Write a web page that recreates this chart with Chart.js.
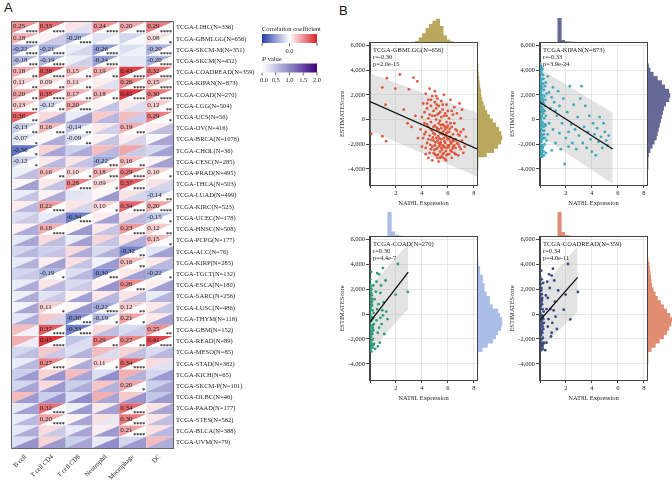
<!DOCTYPE html>
<html>
<head>
<meta charset="utf-8">
<script src="https://cdn.jsdelivr.net/npm/chart.js@4.4.1/dist/chart.umd.min.js"></script>
<style>
  body { margin: 0; background: #fff; }
  #wrap { position: relative; width: 672px; height: 480px; overflow: hidden; background: #fff; }
  #wrap canvas { position: absolute; }
  .panel { position: absolute; font: 13px "Liberation Sans", Arial, sans-serif; color: #111; }
</style>
</head>
<body>
<div id="wrap">
  <div class="panel" style="left:4px;top:0px">A</div>
  <div class="panel" style="left:339px;top:3px">B</div>
</div>
<script>
// ---- panel A: immune correlation heatmap ----
const cellTypes = ['B cell', 'T cell CD4', 'T cell CD8', 'Neutrophil', 'Macrophage', 'DC'];
const cancers = [
  'TCGA-LIHC(N=336)', 'TCGA-GBMLGG(N=656)', 'TCGA-SKCM-M(N=351)', 'TCGA-SKCM(N=452)',
  'TCGA-COADREAD(N=359)', 'TCGA-KIPAN(N=873)', 'TCGA-COAD(N=270)', 'TCGA-LGG(N=504)',
  'TCGA-UCS(N=56)', 'TCGA-OV(N=416)', 'TCGA-BRCA(N=1076)', 'TCGA-CHOL(N=36)',
  'TCGA-CESC(N=285)', 'TCGA-PRAD(N=495)', 'TCGA-THCA(N=503)', 'TCGA-LUAD(N=499)',
  'TCGA-KIRC(N=523)', 'TCGA-UCEC(N=178)', 'TCGA-HNSC(N=508)', 'TCGA-PCPG(N=177)',
  'TCGA-ACC(N=76)', 'TCGA-KIRP(N=285)', 'TCGA-TGCT(N=132)', 'TCGA-ESCA(N=180)',
  'TCGA-SARC(N=256)', 'TCGA-LUSC(N=486)', 'TCGA-THYM(N=118)', 'TCGA-GBM(N=152)',
  'TCGA-READ(N=89)', 'TCGA-MESO(N=85)', 'TCGA-STAD(N=382)', 'TCGA-KICH(N=65)',
  'TCGA-SKCM-P(N=101)', 'TCGA-DLBC(N=46)', 'TCGA-PAAD(N=177)', 'TCGA-STES(N=562)',
  'TCGA-BLCA(N=388)', 'TCGA-UVM(N=79)'
];
const corrValues = [
  [0.25, 0.33, 0.06, 0.24, 0.20, 0.29], [0.18, 0.03, -0.20, -0.07, -0.10, 0.08],
  [-0.22, -0.21, -0.05, -0.26, -0.08, -0.20], [-0.18, -0.19, -0.04, -0.24, -0.06, -0.20],
  [0.18, 0.38, 0.15, 0.19, 0.43, 0.32], [0.11, 0.09, 0.11, 0.04, 0.26, 0.15],
  [0.20, 0.35, 0.17, 0.18, 0.45, 0.30], [0.13, -0.12, 0.20, 0.03, 0.05, 0.12],
  [0.36, 0.08, -0.05, 0.12, 0.15, 0.29], [-0.13, 0.16, -0.14, 0.05, 0.19, 0.04],
  [-0.07, 0.02, -0.09, 0.03, 0.04, -0.02], [-0.36, 0.10, -0.12, 0.15, 0.20, -0.10],
  [-0.12, 0.05, 0.06, -0.22, 0.16, 0.03], [-0.04, 0.16, 0.10, 0.18, 0.29, 0.10],
  [0.02, 0.05, 0.28, 0.09, 0.37, 0.06], [-0.05, 0.03, -0.07, 0.02, 0.06, -0.14],
  [0.04, 0.22, 0.06, 0.10, 0.34, 0.20], [-0.08, -0.05, -0.34, 0.04, 0.06, -0.15],
  [0.03, 0.18, 0.02, 0.05, 0.23, 0.12], [-0.06, 0.08, -0.05, 0.09, 0.06, 0.15],
  [-0.10, -0.12, 0.08, -0.09, -0.32, -0.07], [-0.05, 0.04, 0.07, -0.03, 0.16, 0.05],
  [-0.10, -0.19, -0.08, -0.30, 0.05, -0.22], [-0.05, 0.06, -0.09, 0.03, 0.26, 0.04],
  [-0.04, -0.07, 0.03, 0.05, 0.06, -0.05], [-0.03, 0.11, 0.02, -0.22, 0.12, 0.05],
  [-0.06, 0.12, -0.30, -0.19, 0.21, 0.05], [0.15, 0.37, -0.33, 0.08, -0.09, 0.25],
  [0.18, 0.45, -0.15, 0.29, 0.27, 0.41], [-0.10, 0.12, -0.08, 0.15, 0.10, -0.09],
  [-0.05, 0.27, 0.04, 0.11, 0.34, 0.08], [-0.12, 0.10, 0.15, -0.08, 0.18, -0.10],
  [-0.10, 0.08, -0.12, 0.13, 0.20, -0.12], [0.15, -0.12, -0.08, 0.18, 0.12, -0.14],
  [-0.06, 0.32, -0.04, 0.05, 0.34, 0.06], [-0.05, 0.20, 0.03, 0.07, 0.30, 0.06],
  [-0.06, 0.08, -0.05, 0.04, 0.21, 0.07], [-0.08, 0.10, -0.12, -0.05, -0.10, 0.15]
];
const pValues = [
  [1e-5, 1e-5, 0.25, 1e-5, 2e-4, 1e-5], [1e-5, 0.45, 1e-5, 0.08, 0.06, 0.04],
  [1e-5, 1e-5, 0.35, 1e-5, 0.13, 1e-5], [2e-4, 1e-5, 0.40, 1e-5, 0.20, 1e-5],
  [0.005, 1e-5, 0.005, 0.005, 1e-5, 1e-5], [0.005, 0.008, 0.005, 0.25, 1e-5, 1e-5],
  [0.003, 1e-5, 0.006, 0.004, 1e-5, 1e-5], [0.004, 0.007, 1e-5, 0.5, 0.3, 0.006],
  [0.006, 0.75, 0.85, 0.6, 0.45, 0.03], [0.008, 5e-4, 0.004, 0.4, 1e-4, 0.55],
  [0.03, 0.7, 0.004, 0.5, 0.35, 0.75], [0.03, 0.75, 0.7, 0.6, 0.45, 0.8],
  [0.04, 0.6, 0.5, 2e-4, 0.006, 0.8], [0.55, 0.002, 0.03, 1e-4, 1e-5, 0.03],
  [0.8, 0.5, 1e-5, 0.04, 1e-5, 0.35], [0.5, 0.7, 0.2, 0.85, 0.35, 0.002],
  [0.6, 1e-5, 0.35, 0.03, 1e-5, 1e-5], [0.45, 0.7, 1e-5, 0.8, 0.6, 0.04],
  [0.7, 1e-5, 0.85, 0.5, 1e-5, 0.008], [0.75, 0.55, 0.8, 0.5, 0.7, 0.04],
  [0.6, 0.5, 0.7, 0.65, 0.005, 0.8], [0.65, 0.8, 0.5, 0.85, 0.007, 0.6],
  [0.45, 0.03, 0.6, 5e-4, 0.8, 0.02], [0.7, 0.6, 0.45, 0.9, 5e-4, 0.8],
  [0.7, 0.45, 0.8, 0.6, 0.55, 0.65], [0.75, 0.02, 0.9, 1e-5, 0.008, 0.5],
  [0.7, 0.35, 5e-4, 0.04, 0.02, 0.8], [0.12, 1e-5, 1e-5, 0.55, 0.45, 0.002],
  [0.15, 1e-5, 0.3, 0.006, 0.006, 1e-5], [0.55, 0.45, 0.65, 0.3, 0.55, 0.6],
  [0.6, 1e-5, 0.7, 0.03, 1e-5, 0.25], [0.85, 0.9, 0.75, 0.95, 0.65, 0.85],
  [0.75, 0.85, 0.7, 0.65, 0.04, 0.75], [0.85, 0.9, 0.95, 0.75, 0.9, 0.85],
  [0.8, 1e-5, 0.85, 0.8, 1e-5, 0.75], [0.6, 1e-5, 0.75, 0.2, 1e-5, 0.55],
  [0.7, 0.45, 0.75, 0.85, 1e-5, 0.6], [0.9, 0.85, 0.75, 0.95, 0.85, 0.7]
];

// ---- panel B: scatter data (NAT8L expression vs ESTIMATEScore) ----
const xTicks = [0, 2, 4, 6, 8];
const yTicks = [-4000, -2000, 0, 2000, 4000, 6000];

const gbmlggPoints = [
  [0.1,-1150],[0.95,-1350],[1.25,-1750],[0.95,2600],[1.3,3350],[1.95,2500],[2.3,3650],[3.0,2450],[3.35,3400],[3.65,3100],[1.2,1200],[2.6,800],[3.2,-600],[3.5,300],[3.7,-1500],[2.9,-300],
  [3.9,-800],[4.0,200],[4.0,-2200],[4.1,1300],[4.1,-1500],[4.2,600],[4.2,-300],[4.3,2100],[4.3,-2800],[4.3,-1000],[4.4,900],[4.4,-1900],[4.5,1600],[4.5,100],[4.5,-3100],[4.5,-600],
  [4.6,2500],[4.6,-1300],[4.6,400],[4.7,-2400],[4.7,1100],[4.7,-200],[4.8,1900],[4.8,-900],[4.8,-3300],[4.8,300],[4.9,-1700],[4.9,700],[4.9,-2700],[5.0,1400],[5.0,-500],[5.0,-1200],[5.0,-2100],[5.0,2300],
  [5.1,-1500],[5.1,0],[5.1,900],[5.1,-2900],[5.2,-800],[5.2,1700],[5.2,-2300],[5.2,400],[5.3,-1900],[5.3,-300],[5.3,-3400],[5.3,1100],[5.4,-1100],[5.4,-2600],[5.4,600],[5.4,-100],[5.5,-1600],[5.5,1500],[5.5,-3000],[5.5,-700],[5.5,200],
  [5.6,-2100],[5.6,-1200],[5.6,800],[5.6,-400],[5.7,-2700],[5.7,-1500],[5.7,300],[5.7,2000],[5.8,-1900],[5.8,-800],[5.8,-3200],[5.8,500],[5.9,-2300],[5.9,-1100],[5.9,-200],[5.9,1200],[6.0,-1600],[6.0,-2800],[6.0,-500],[6.0,700],
  [6.1,-2100],[6.1,-1000],[6.1,100],[6.2,-2500],[6.2,-1400],[6.2,1600],[6.3,-1800],[6.3,-600],[6.3,-3100],[6.4,-2200],[6.4,400],[6.4,-1200],[6.5,-2700],[6.5,-300],[6.5,1000],
  [6.6,-1600],[6.6,-2300],[6.7,-900],[6.7,500],[6.8,-2000],[6.8,-2900],[6.9,-1300],[6.9,1300],[7.0,-2400],[7.0,100],[7.1,-1700],[7.1,800],[7.2,-800],[7.3,-2200],[7.4,-1400],
  [4.85,-1450],[5.05,-1850],[5.15,-650],[5.25,-1350],[5.35,-2150],[5.45,-450],[5.55,-2450],[5.65,-950],[5.75,-1750],[5.85,-2550],[5.95,-1450],[6.05,-2250],[6.15,-750],[6.25,-1950],[6.35,-2350],
  [5.25,-2850],[5.65,-3100],[4.95,-2450],[4.75,-1650],[5.45,-1850],[5.95,-650],[6.45,-1750],[4.65,-2050],[5.35,-1550],[5.75,-2250],
  [4.2,-1200],[4.4,-400],[4.6,-2700],[4.7,1600],[4.9,-600],[5.0,300],[5.1,-2400],[5.2,-1700],[5.3,500],[5.4,-2000],[5.5,-1100],[5.6,-2800],[5.7,-500],[5.8,-1300],[5.9,-2900],[6.0,-1000],
  [6.1,-1600],[6.2,-300],[6.3,-2600],[6.4,-1600],[6.5,-2100],[6.6,-800],[6.7,-1900],[6.8,-1200],[7.0,-1000],[7.2,-2700],[4.4,1300],[4.8,-2200],[5.1,1900],[5.3,-800],[5.6,1200],[5.9,300],
  [6.1,-2800],[6.3,700],[4.5,-1600],[4.9,-1100],[5.2,-3100],[5.5,-2300],[5.8,-600],[6.0,-2100],[6.6,-2800],[6.9,-2200],[5.0,-2800],[5.4,-3100],[5.7,-2200],[6.2,-1800],[4.3,-2300],[4.7,-800],
  [5.15,1200],[5.85,-3300]
];
const kipanPoints = [
  [0.02,4500],[0.05,3900],[0.1,4200],[0.03,3400],[0.15,3700],[0.08,3000],[0.2,3300],[0.04,2700],[0.12,2500],[0.25,2900],[0.06,2200],[0.18,2000],[0.3,2400],[0.02,1800],[0.1,1600],[0.22,1500],
  [0.35,1900],[0.05,1200],[0.15,1000],[0.28,1300],[0.08,800],[0.2,600],[0.4,1100],[0.03,400],[0.12,200],[0.25,500],[0.06,0],[0.18,-200],[0.32,100],[0.1,-500],[0.02,-700],[0.22,-900],
  [0.4,-400],[0.07,-1100],[0.15,-1300],[0.3,-1200],[0.04,-1600],[0.12,-1800],[0.25,-1500],[0.08,-2100],[0.2,-2300],[0.35,-2000],[0.03,-2500],[0.14,-2700],[0.28,-2600],[0.06,-2900],[0.18,-3000],
  [0.1,-2800],[0.45,-2700],[0.5,-1700],[0.45,300],[0.5,2100],[0.45,3000],[0.13,4000],[0.24,3600],[0.02,2900],[0.09,2300],[0.16,1400],[0.04,-300],[0.27,-600],[0.11,-2300],
  [0.03,3800],[0.07,3200],[0.11,2800],[0.16,2600],[0.05,2000],[0.13,1900],[0.21,1700],[0.09,1300],[0.17,700],[0.01,900],[0.26,800],[0.14,300],[0.04,-100],[0.21,-400],[0.12,-800],[0.33,-900],
  [0.06,-1400],[0.19,-1600],[0.02,-1900],[0.15,-2100],[0.24,-2200],[0.08,-2400],[0.17,-2500],[0.31,-2900],[0.05,-3000],[0.38,-1500],[0.42,-500],[0.36,700],[0.42,1600],[0.38,2700],[0.09,4300],
  [0.19,4100],[0.27,3300],[0.01,3100],[0.11,-3000],[0.23,-2900],
  [0.6,3500],[0.7,2200],[0.8,900],[0.6,-1200],[0.9,-2500],[0.7,-300],[1.0,2600],[1.1,1400],[1.0,-800],[1.2,-1900],[1.3,300],[1.4,2300],[1.5,-1100],[1.5,1100],[1.6,-2400],[1.7,-300],
  [1.8,1700],[1.9,-3600],[2.0,-1500],[2.1,600],[2.2,-2200],[2.3,2700],[2.4,-400],[2.5,-1900],[2.6,1200],[2.7,-800],[2.8,-2400],[2.9,200],[3.0,-1300],[3.1,1700],[3.2,2700],[3.3,-1900],
  [3.4,-600],[3.5,1100],[3.6,-2300],[3.7,-1000],[3.8,300],[3.9,-1600],[4.0,-2600],[4.1,-300],[4.2,-1200],[4.3,-2900],[4.4,-700],[4.5,-1800],[4.6,200],[4.7,-1400],[4.8,-2300],[4.9,-300],
  [5.0,-1000],[5.1,-1700],[5.2,-2100],[5.3,-1300],[2.2,-1000],[1.2,700],[0.9,1800]
];
const coadPoints = [
  [0.02,2800],[0.05,2200],[0.1,1700],[0.03,1300],[0.15,1000],[0.06,600],[0.2,300],[0.02,0],[0.1,-300],[0.05,-600],[0.18,-900],[0.03,-1200],[0.12,-1500],[0.25,-1300],[0.07,-1800],[0.15,-2100],
  [0.04,-2400],[0.2,-2700],[0.1,-3000],[0.08,-2600],[0.22,-2000],[0.12,-500],[0.28,100],[0.03,500],[0.14,1500],[0.25,2300],[0.06,-1000],[0.18,-1600],[0.3,-2400],[0.1,3400],[0.02,-2200],
  [0.16,700],[0.26,-300],[0.04,1900],[0.09,-1400],[0.3,-800],
  [0.01,2400],[0.04,-2800],[0.08,-200],[0.13,-2400],[0.17,1200],[0.21,-1100],[0.06,300],[0.11,2000],[0.24,-2500],[0.19,-400],[0.02,-1600],[0.09,900],
  [0.45,1800],[0.5,-500],[0.55,3300],[0.6,-1500],[0.65,800],[0.7,3200],[0.7,-1100],[0.75,-2300],[0.8,1700],[0.85,2300],[0.9,-800],[0.95,300],[1.0,3700],[1.05,950],[1.0,-100],[1.1,-1600],
  [1.2,2700],[1.25,200],[1.35,-400],[0.5,2600],[0.4,-2800],[0.6,-2600],[0.35,1200],[1.98,1570],[2.15,4030],[2.92,1780],[0.8,-300],[0.55,400]
];
const coadreadPoints = [
  [0.02,3000],[0.05,2400],[0.1,1900],[0.03,1500],[0.15,1100],[0.06,700],[0.2,400],[0.02,100],[0.1,-200],[0.05,-500],[0.18,-800],[0.03,-1100],[0.12,-1400],[0.25,-1200],[0.07,-1700],[0.15,-2000],
  [0.04,-2300],[0.2,-2600],[0.1,-2900],[0.08,-2500],[0.22,-1900],[0.12,-600],[0.28,200],[0.03,600],[0.14,1600],[0.25,2500],[0.06,-900],[0.18,-1500],[0.3,-2300],[0.1,3500],[0.02,-2100],
  [0.16,800],[0.26,-400],[0.04,2000],[0.09,-1300],[0.3,-700],[0.13,2800],[0.21,-2800],[0.07,1200],[0.17,-100],
  [0.01,2600],[0.04,-2700],[0.08,-100],[0.13,-2300],[0.17,1300],[0.21,-1000],[0.06,400],[0.11,2100],[0.24,-2400],[0.19,-300],[0.02,-1500],[0.09,1000],
  [0.4,-2900],[0.45,1500],[0.5,-2300],[0.55,2600],[0.6,-1000],[0.65,-400],[0.7,3200],[0.75,2100],[0.8,400],[0.85,-1800],[0.9,3100],[0.9,-1500],[1.0,3650],[1.05,300],[1.1,2700],[1.2,-200],
  [1.3,-1200],[1.4,1900],[1.83,350],[1.97,1570],[2.16,4030],[2.34,-430],[2.92,1780],[0.6,1300],[0.5,400],[0.95,-700],[1.15,1000]
];

// fitted line and band ends [x, y]
const gbmlggFit = [[0, 1450], [8.25, -2380]];
const gbmlggBandHi = [[0, 3750], [8.25, 560]];
const gbmlggBandLo = [[0, -900], [8.25, -4620]];
const kipanFit = [[0, 1380], [5.6, -2380]];
const kipanBandHi = [[0, 4100], [5.6, 550]];
const kipanBandLo = [[0, -1300], [5.6, -5200]];
const coadFit = [[0, -620], [2.95, 3380]];
const coadBandHi = [[0, 2200], [2.95, 5650]];
const coadBandLo = [[0, -3000], [2.95, 430]];
const coadreadFit = [[0, -500], [2.9, 2950]];
const coadreadBandHi = [[0, 1950], [2.9, 5450]];
const coadreadBandLo = [[0, -2800], [2.9, 170]];

// marginal histograms
const xBins = [0.2,0.6,1.0,1.4,1.8,2.2,2.6,3.0,3.4,3.8,4.2,4.6,5.0,5.4,5.8,6.2,6.6,7.0,7.4,7.8,8.2];
const yBins = [-4600,-4200,-3800,-3400,-3000,-2600,-2200,-1800,-1400,-1000,-600,-200,200,600,1000,1400,1800,2200,2600,3000,3400,3800,4200,4600,5000];
const gbmlggXCounts = [0.3,0,0.3,0.3,0,0.3,0.3,0.5,1.7,5,9,14,18,21,23,16,7,3,1.3,0.5,0];
const gbmlggYCounts = [0,0,0,8,15,19,22,23,22,20,17,14,11,8.5,6.5,5,3.8,3,2.5,1.8,1.2,0.8,0.3,0,0];
const kipanXCounts = [24,2.5,1.2,1,0.8,0.7,0.6,0.5,0.5,0.4,0.4,0.3,0.3,0.2,0,0,0,0,0,0,0];
const kipanYCounts = [0,0,0,0.5,2,4,6,8,9,10,11,12,13,14,15,17,20,21,20,16,13,9,5,2,0.5];
const coadXCounts = [24,5,2,1,0.7,0.5,0.3,0.3,0,0,0,0,0,0,0,0,0,0,0,0,0];
const coadYCounts = [0,0,0,4,9,14,17,19,22,23,23,21,19,14,11,11,8,6,6,4.3,4.3,1.7,1.7,0,0];
const coadreadXCounts = [24,4.5,1.5,1,0.6,0.4,0.3,0.3,0,0,0,0,0,0,0,0,0,0,0,0,0];
const coadreadYCounts = [0,0,0,3,7,11,15,18,20,22,23,21,18,15,12,9,7,5,3.5,3,2.5,2,1.5,1,0];

Chart.defaults.font.family = '"Liberation Serif", "Times New Roman", serif';
Chart.defaults.color = '#222';

const wrap = document.getElementById('wrap');
function addCanvas(left, top, width, height) {
  const cv = document.createElement('canvas');
  cv.width = width; cv.height = height;
  cv.style.left = left + 'px'; cv.style.top = top + 'px';
  wrap.appendChild(cv);
  return cv;
}

function mix(a, b, t) { return a.map((v, i) => Math.round(v + (b[i] - v) * t)); }
const BLUE = [38, 62, 172], RED = [216, 33, 40], WHITE = [255, 255, 255];
const LAV = [140, 136, 200], PURPLE = [63, 0, 125];
function rgb(c) { return `rgb(${c[0]},${c[1]},${c[2]})`; }
function corrColor(r) {
  const t = Math.max(-1, Math.min(1, r / 0.5));
  return rgb(t < 0 ? mix(WHITE, BLUE, -t) : mix(WHITE, RED, t));
}
function pColor(p) {
  const t = Math.min(1, p / 2);
  return rgb(t < 0.5 ? mix(WHITE, LAV, t * 2) : mix(LAV, PURPLE, (t - 0.5) * 2));
}
function stars(p) {
  if (p < 1e-4) return '****';
  if (p < 1e-3) return '***';
  if (p < 1e-2) return '**';
  if (p < 0.05) return '*';
  return '';
}

const heatCells = [];
cancers.forEach((c, i) => cellTypes.forEach((t, j) => {
  heatCells.push({ x: t, y: c, r: corrValues[i][j], p: pValues[i][j] });
}));

const triPlugin = {
  id: 'triCells',
  afterDatasetsDraw(chart) {
    const { ctx, chartArea: a, scales: { x, y } } = chart;
    const w = a.width / cellTypes.length, h = a.height / cancers.length;
    ctx.save();
    chart.data.datasets[0].data.forEach(d => {
      const cx = x.getPixelForValue(d.x), cy = y.getPixelForValue(d.y);
      const x0 = cx - w / 2, x1 = cx + w / 2, y0 = cy - h / 2, y1 = cy + h / 2;
      // upper-left half: correlation
      ctx.fillStyle = corrColor(d.r);
      ctx.beginPath(); ctx.moveTo(x0, y0); ctx.lineTo(x1 + 0.3, y0); ctx.lineTo(x0, y1 + 0.3); ctx.closePath(); ctx.fill();
      // lower-right half: p value
      ctx.fillStyle = pColor(d.p);
      ctx.beginPath(); ctx.moveTo(x1, y0); ctx.lineTo(x1, y1); ctx.lineTo(x0, y1); ctx.closePath(); ctx.fill();
    });
    chart.data.datasets[0].data.forEach(d => {
      const s = stars(d.p);
      if (!s) return;
      const cx = x.getPixelForValue(d.x), cy = y.getPixelForValue(d.y);
      ctx.fillStyle = '#222';
      ctx.font = '7px "Liberation Serif", serif';
      ctx.textAlign = 'left'; ctx.textBaseline = 'top';
      ctx.fillText(d.r.toFixed(2), cx - w / 2 + 1, cy - h / 2 + 1);
      ctx.font = 'bold 6px "Liberation Serif", serif';
      ctx.textAlign = 'right'; ctx.textBaseline = 'bottom';
      ctx.fillText(s, cx + w / 2 - 1, cy + h / 2 + 2);
    });
    ctx.strokeStyle = '#666'; ctx.lineWidth = 1;
    ctx.strokeRect(a.left - 0.5, a.top - 0.5, a.width + 1, a.height + 1);
    ctx.restore();
  },
  afterDraw(chart) {
    const ctx = chart.ctx;
    ctx.save();
    ctx.fillStyle = '#222';
    ctx.textBaseline = 'middle'; ctx.textAlign = 'left';
    ctx.font = '6.5px "Liberation Serif", serif';
    ctx.fillText('Correlation coefficient', 262, 29);
    const g1 = ctx.createLinearGradient(262, 0, 317, 0);
    g1.addColorStop(0, corrColor(-0.5)); g1.addColorStop(0.5, corrColor(0)); g1.addColorStop(1, corrColor(0.5));
    ctx.fillStyle = g1; ctx.fillRect(262, 34, 55, 9);
    ctx.strokeStyle = '#444'; ctx.lineWidth = 0.8;
    [262, 289.5, 317].forEach(px => { ctx.beginPath(); ctx.moveTo(px, 43); ctx.lineTo(px, 46); ctx.stroke(); });
    ctx.fillStyle = '#222'; ctx.textAlign = 'center';
    ctx.fillText('0.0', 289.5, 51.5);
    ctx.textAlign = 'left';
    ctx.font = 'italic 6.5px "Liberation Serif", serif';
    ctx.fillText('P', 262, 59.5);
    ctx.font = '6.5px "Liberation Serif", serif';
    ctx.fillText(' value', 266, 59.5);
    const g2 = ctx.createLinearGradient(262, 0, 317, 0);
    g2.addColorStop(0, pColor(0)); g2.addColorStop(0.5, pColor(1)); g2.addColorStop(1, pColor(2));
    ctx.fillStyle = g2; ctx.fillRect(262, 63.5, 55, 9);
    ctx.fillStyle = '#222'; ctx.textAlign = 'center';
    ['0.0', '0.5', '1.0', '1.5', '2.0'].forEach((t, i) => {
      const px = 262 + i * 13.75;
      ctx.beginPath(); ctx.moveTo(px, 72.5); ctx.lineTo(px, 75.5); ctx.stroke();
      ctx.fillText(t, px + (i === 0 ? 2 : 0), 80.5);
    });
    ctx.restore();
  }
};

new Chart(addCanvas(0, 0, 336, 480), {
  type: 'scatter',
  data: { datasets: [{ data: heatCells, pointRadius: 0 }] },
  options: {
    responsive: false, animation: false,
    layout: { padding: { left: 12, top: 22, right: 0, bottom: 0 } },
    plugins: { legend: { display: false }, tooltip: { enabled: false } },
    scales: {
      x: {
        type: 'category', labels: cellTypes, offset: true,
        grid: { display: false, drawTicks: false }, border: { display: false },
        ticks: { autoSkip: false, minRotation: 45, maxRotation: 45, padding: 5, font: { size: 6.5 } },
        afterFit: s => { s.height = 32; }
      },
      y: {
        type: 'category', labels: cancers, position: 'right', offset: true,
        grid: { display: false, drawTicks: false }, border: { display: false },
        ticks: { autoSkip: false, padding: 3, font: { size: 6.5 } },
        afterFit: s => { s.width = 163; }
      }
    }
  },
  plugins: [triPlugin]
});

// ---- scatter panels ----
const Y_MIN = -5300, Y_MAX = 6200, X_MAX = 8.25;
const toXY = arr => arr.map(p => ({ x: p[0], y: p[1] }));

const boxPlugin = {
  id: 'boxAndText',
  afterDatasetsDraw(chart) {
    const { ctx, chartArea: a } = chart;
    const lines = chart.options.plugins.boxAndText.lines;
    ctx.save();
    ctx.strokeStyle = '#444'; ctx.lineWidth = 1;
    ctx.strokeRect(a.left - 0.5, a.top - 0.5, a.width + 1, a.height + 1);
    ctx.fillStyle = '#222';
    ctx.font = '6.5px "Liberation Serif", serif';
    ctx.textAlign = 'left'; ctx.textBaseline = 'middle';
    lines.forEach((t, i) => ctx.fillText(t, a.left + 3, a.top + 6.8 + i * 7));
    ctx.restore();
  }
};

function makeScatter(area, pts, fit, hi, lo, color, lines) {
  const cv = addCanvas(area.l - 36, area.t - 5, area.r - area.l + 40, area.b - area.t + 31);
  new Chart(cv, {
    type: 'scatter',
    data: {
      datasets: [
        { type: 'line', data: toXY(fit), borderColor: '#111', borderWidth: 1.3, pointRadius: 0, fill: false },
        { data: toXY(pts), backgroundColor: color, borderWidth: 0, pointRadius: 1.4 },
        { type: 'line', data: toXY(hi), borderWidth: 0, pointRadius: 0, fill: '+1', backgroundColor: 'rgba(175,175,175,0.35)' },
        { type: 'line', data: toXY(lo), borderWidth: 0, pointRadius: 0, fill: false }
      ]
    },
    options: {
      responsive: false, animation: false,
      layout: { padding: { top: 5, right: 4, left: 0, bottom: 0 } },
      plugins: { legend: { display: false }, tooltip: { enabled: false }, boxAndText: { lines } },
      scales: {
        x: {
          type: 'linear', min: 0, max: X_MAX,
          afterBuildTicks: s => { s.ticks = xTicks.map(v => ({ value: v })); },
          ticks: { autoSkip: false, padding: 1, font: { size: 6.5 }, callback: v => (v === 0 ? '' : String(v)) },
          grid: { color: '#e6e6e6', tickLength: 3, tickColor: '#444' },
          border: { color: '#444' },
          title: { display: true, text: 'NAT8L Expression', font: { size: 6.5 }, padding: { top: 0, bottom: 4 } },
          afterFit: s => { s.height = 26; }
        },
        y: {
          type: 'linear', min: Y_MIN, max: Y_MAX,
          afterBuildTicks: s => { s.ticks = yTicks.map(v => ({ value: v })); },
          ticks: { autoSkip: false, padding: 1, font: { size: 6.5 }, callback: v => v.toLocaleString('en-US') },
          grid: { color: '#e6e6e6', tickLength: 4, tickColor: '#444' },
          border: { color: '#444' },
          title: { display: true, text: 'ESTIMATEScore', font: { size: 6.5 }, padding: { top: 4, bottom: 0 } },
          afterFit: s => { s.width = 36; }
        }
      }
    },
    plugins: [boxPlugin]
  });
}

function makeHist(left, top, width, height, bins, counts, color, vertical) {
  const cv = addCanvas(left, top, width, height);
  const data = bins.map((b, i) => (vertical ? { x: counts[i], y: b } : { x: b, y: counts[i] }));
  const indexScale = vertical ? { type: 'linear', min: Y_MIN, max: Y_MAX, display: false } : { type: 'linear', min: 0, max: X_MAX, display: false };
  const valueScale = { type: 'linear', min: 0, max: 24, display: false };
  new Chart(cv, {
    type: 'bar',
    data: { datasets: [{ data, backgroundColor: color, borderWidth: 0, barPercentage: 1, categoryPercentage: 1 }] },
    options: {
      responsive: false, animation: false, indexAxis: vertical ? 'y' : 'x',
      layout: { padding: 0 },
      plugins: { legend: { display: false }, tooltip: { enabled: false } },
      scales: vertical ? { y: indexScale, x: valueScale } : { x: indexScale, y: valueScale }
    }
  });
}

const panels = [
  { area: { l: 370, t: 43, r: 477, b: 185 }, pts: gbmlggPoints, fit: gbmlggFit, hi: gbmlggBandHi, lo: gbmlggBandLo,
    color: '#e0583c', hist: '#b9a85e', xc: gbmlggXCounts, yc: gbmlggYCounts,
    lines: ['TCGA-GBMLGG(N=656)', 'r=-0.30', 'p=2.0e-15'] },
  { area: { l: 540, t: 43, r: 647, b: 185 }, pts: kipanPoints, fit: kipanFit, hi: kipanBandHi, lo: kipanBandLo,
    color: '#40a8bd', hist: '#666895', xc: kipanXCounts, yc: kipanYCounts,
    lines: ['TCGA-KIPAN(N=873)', 'r=-0.33', 'p=3.9e-24'] },
  { area: { l: 370, t: 237, r: 477, b: 380 }, pts: coadPoints, fit: coadFit, hi: coadBandHi, lo: coadBandLo,
    color: '#2e9d7c', hist: '#a9bde6', xc: coadXCounts, yc: coadYCounts,
    lines: ['TCGA-COAD(N=270)', 'r=0.30', 'p=4.4e-7'] },
  { area: { l: 540, t: 237, r: 647, b: 380 }, pts: coadreadPoints, fit: coadreadFit, hi: coadreadBandHi, lo: coadreadBandLo,
    color: '#3a4a7e', hist: '#e08d74', xc: coadreadXCounts, yc: coadreadYCounts,
    lines: ['TCGA-COADREAD(N=359)', 'r=0.34', 'p=4.0e-11'] }
];

panels.forEach(p => {
  const a = p.area;
  makeHist(a.l, a.t - 25, a.r - a.l, 25, xBins, p.xc, p.hist, false);
  makeHist(a.r + 1, a.t, 25, a.b - a.t, yBins, p.yc, p.hist, true);
  makeScatter(a, p.pts, p.fit, p.hi, p.lo, p.color, p.lines);
});
</script>
</body>
</html>
